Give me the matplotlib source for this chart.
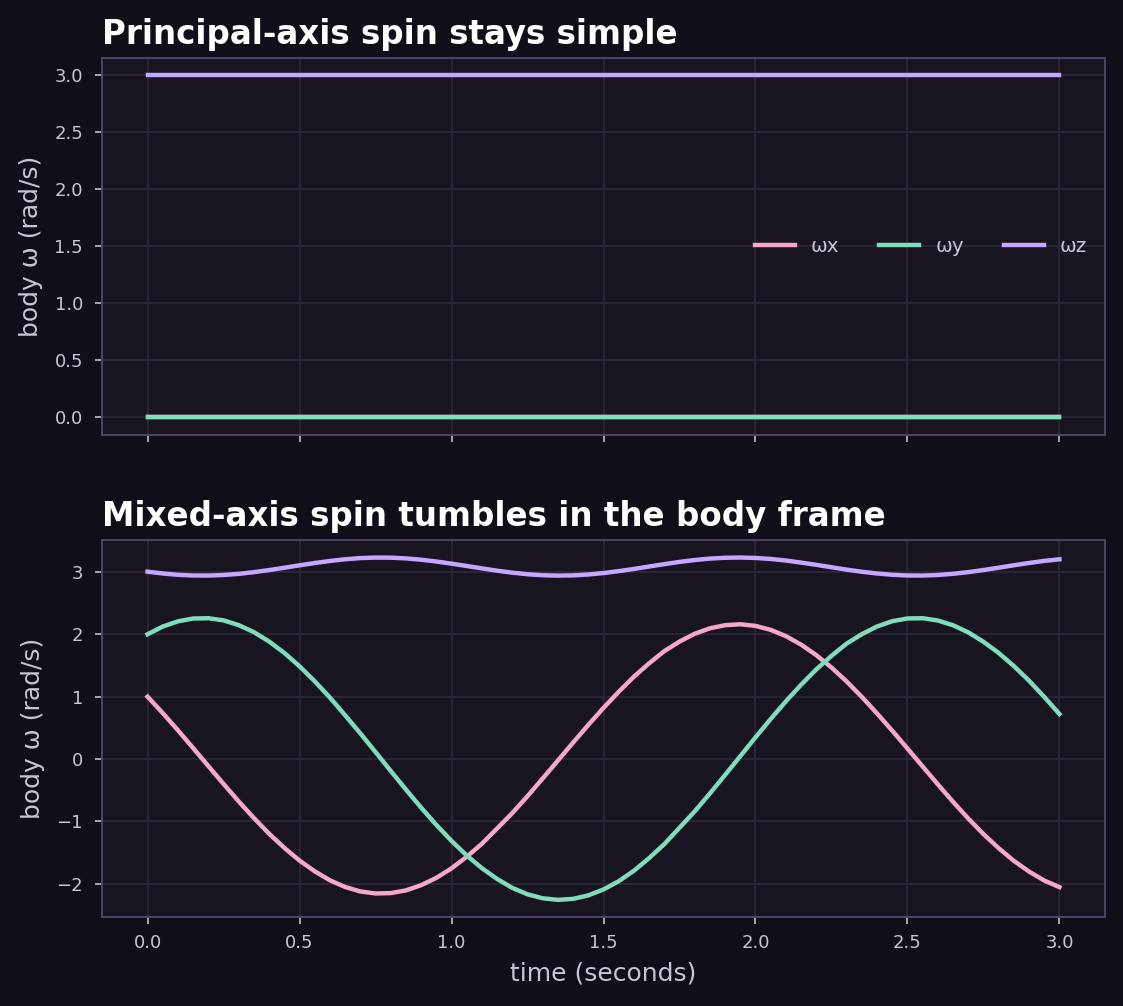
import numpy as np
import matplotlib
matplotlib.use("Agg")
import matplotlib.pyplot as plt

# Time samples (seconds), every 0.05 s from 0 to 3
time_s = np.round(np.arange(0, 61) * 0.05, 2)

# Top panel: spin about a principal axis, body rates stay constant
top_wx = [0.0] * len(time_s)
top_wy = [0.0] * len(time_s)
top_wz = [3.0] * len(time_s)

# Bottom panel: mixed-axis spin
bottom_wx = [0.999, 0.735, 0.459, 0.174, -0.115, -0.401, -0.682, -0.949, -1.200, -1.426,
             -1.630, -1.802, -1.947, -2.054, -2.125, -2.158, -2.152, -2.108, -2.025, -1.907,
             -1.755, -1.569, -1.360, -1.115, -0.868, -0.597, -0.313, -0.026, 0.262, 0.546,
             0.819, 1.077, 1.319, 1.533, 1.729, 1.882, 2.007, 2.095, 2.145, 2.160,
             2.134, 2.070, 1.970, 1.833, 1.665, 1.466, 1.242, 0.994, 0.729, 0.453,
             0.167, -0.121, -0.408, -0.688, -0.955, -1.205, -1.431, -1.634, -1.806, -1.950,
             -2.056]
bottom_wy = [2.000, 2.123, 2.207, 2.252, 2.257, 2.222, 2.146, 2.033, 1.883, 1.700,
             1.486, 1.245, 0.984, 0.700, 0.410, 0.110, -0.192, -0.491, -0.781, -1.058,
             -1.315, -1.548, -1.752, -1.925, -2.068, -2.171, -2.235, -2.260, -2.244, -2.188,
             -2.093, -1.961, -1.793, -1.591, -1.366, -1.104, -0.841, -0.554, -0.257, 0.044,
             0.346, 0.640, 0.924, 1.189, 1.436, 1.653, 1.850, 2.001, 2.125, 2.209,
             2.253, 2.257, 2.220, 2.144, 2.030, 1.879, 1.700, 1.490, 1.255, 0.995,
             0.720]
bottom_wz = [3.003, 2.974, 2.953, 2.942, 2.941, 2.950, 2.968, 2.995, 3.029, 3.066,
             3.105, 3.142, 3.175, 3.202, 3.221, 3.229, 3.228, 3.216, 3.195, 3.166,
             3.132, 3.094, 3.056, 3.019, 2.987, 2.962, 2.946, 2.940, 2.944, 2.958,
             2.981, 3.012, 3.047, 3.086, 3.124, 3.160, 3.190, 3.213, 3.226, 3.230,
             3.223, 3.207, 3.182, 3.149, 3.113, 3.074, 3.036, 3.002, 2.974, 2.953,
             2.942, 2.941, 2.950, 2.969, 2.996, 3.029, 3.067, 3.106, 3.143, 3.176,
             3.202]

series_labels = ["ωx", "ωy", "ωz"]
series_colors = ["#f5a8c8", "#7fdcbd", "#c4a8ff"]

# Dark theme colours
fig_bg = "#110e19"
axes_bg = "#181520"
spine_color = "#4d4266"
grid_color = "#2b2639"
text_color = "#c9c4d6"

fig, (ax_top, ax_bottom) = plt.subplots(2, 1, sharex=True,
                                        figsize=(1123 / 144, 1006 / 144), dpi=144)
fig.patch.set_facecolor(fig_bg)
fig.subplots_adjust(left=0.0908, right=0.984, top=0.9423, bottom=0.0885, hspace=0.281)

top_series = [top_wx, top_wy, top_wz]
bottom_series = [bottom_wx, bottom_wy, bottom_wz]

for values, label, color in zip(top_series, series_labels, series_colors):
    ax_top.plot(time_s, values, color=color, lw=2.2, label=label)

for values, label, color in zip(bottom_series, series_labels, series_colors):
    ax_bottom.plot(time_s, values, color=color, lw=2.2, label=label)

ax_top.set_title("Principal-axis spin stays simple", loc="left",
                 fontsize=16.25, fontweight="bold", color="white", pad=7)
ax_bottom.set_title("Mixed-axis spin tumbles in the body frame", loc="left",
                    fontsize=16.25, fontweight="bold", color="white", pad=7)

for ax in (ax_top, ax_bottom):
    ax.set_facecolor(axes_bg)
    ax.grid(True, color=grid_color, lw=0.9)
    ax.set_axisbelow(True)
    for spine in ax.spines.values():
        spine.set_color(spine_color)
        spine.set_linewidth(1.0)
    ax.tick_params(colors=text_color, labelsize=9)
    ax.tick_params(axis="y", pad=6)
    ax.tick_params(axis="x", pad=5)
    ax.set_ylabel("body ω (rad/s)", fontsize=12.5, color=text_color, labelpad=5.5)

ax_top.set_yticks([0.0, 0.5, 1.0, 1.5, 2.0, 2.5, 3.0])
ax_bottom.set_xlabel("time (seconds)", fontsize=12.5, color=text_color, labelpad=5)

legend = ax_top.legend(loc="center right", ncol=3, frameon=False, fontsize=10)
for text in legend.get_texts():
    text.set_color(text_color)

fig.savefig("out.png", dpi=144, facecolor=fig_bg)
